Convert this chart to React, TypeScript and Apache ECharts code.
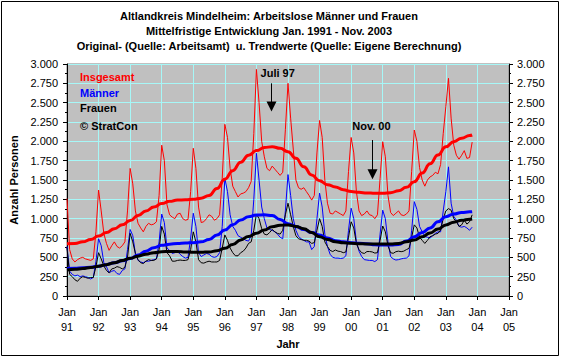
import React, { useEffect, useRef } from "react";
import * as echarts from "echarts";

// Monthly values, Jan 1991 (index 0) .. Nov 2003 (index 154)
const insgesamt = [
  1260, 600, 480, 440, 470, 490, 500, 480, 470, 460, 480, 830,
  1370, 1100, 810, 680, 590, 650, 700, 640, 620, 650, 700, 1100,
  1650, 1450, 1100, 940, 880, 830, 900, 940, 920, 930, 960, 1300,
  1950, 1750, 1180, 1050, 1020, 1000, 1060, 1070, 1000, 980, 990, 1350,
  1910, 1650, 1150, 950, 960, 1000, 1050, 1030, 980, 1000, 1050, 1520,
  2220, 2050, 1650, 1420, 1350, 1280, 1320, 1330, 1350, 1400, 1480, 2100,
  2930, 2500, 2000, 1800, 1650, 1620, 1680, 1640, 1600, 1560, 1600, 2150,
  2750, 2300, 1900, 1500, 1400, 1380, 1400, 1350, 1300, 1240, 1300, 1850,
  2270, 2050, 1500, 1200, 1070, 1060, 1100, 1080, 1060, 1040, 1100, 1610,
  2050, 1850, 1350, 1100, 1040, 1060, 1100, 1050, 1040, 1000, 1050, 1520,
  1995, 1800, 1300, 1080, 1040, 1070, 1100, 1050, 1040, 1060, 1100, 1610,
  2146, 2000, 1660, 1500, 1420, 1500, 1540, 1560, 1600, 1580, 1700, 2100,
  2450, 2815, 2300, 1950, 1820, 1770, 1820, 1880, 1780, 1790, 1990,
];
const maenner = [
  640, 320, 280, 260, 270, 250, 260, 250, 240, 220, 240, 450,
  740, 650, 430, 380, 300, 320, 330, 290, 280, 330, 350, 600,
  860, 780, 550, 460, 440, 430, 450, 450, 460, 470, 480, 700,
  1060, 950, 620, 590, 550, 560, 575, 540, 510, 490, 500, 750,
  1070, 900, 560, 510, 530, 550, 540, 510, 500, 510, 560, 900,
  1520, 1350, 1050, 900, 850, 780, 760, 740, 720, 710, 780, 1250,
  1845, 1500, 1150, 1000, 880, 860, 850, 830, 800, 760, 740, 1100,
  1570, 1300, 1000, 850, 770, 740, 720, 700, 700, 600, 640, 1000,
  1330, 1150, 800, 640, 540, 500, 490, 490, 485, 490, 520, 850,
  1135, 1000, 700, 580, 510, 470, 465, 460, 460, 445, 470, 800,
  1110, 1000, 700, 510, 480, 465, 470, 480, 487, 490, 520, 850,
  1220, 1120, 900, 830, 770, 760, 750, 780, 810, 830, 830, 1100,
  1350, 1670, 1200, 1030, 980, 900, 890, 900, 880, 850, 890,
];
const frauen = [
  620, 280, 250, 210, 190, 230, 250, 240, 230, 240, 240, 380,
  560, 480, 390, 330, 300, 350, 360, 380, 370, 350, 370, 500,
  810, 700, 550, 470, 430, 420, 450, 470, 460, 460, 480, 600,
  900, 800, 560, 520, 450, 450, 460, 465, 460, 460, 470, 600,
  830, 700, 470, 430, 425, 440, 450, 440, 440, 440, 460, 620,
  790, 720, 620, 560, 520, 520, 560, 580, 620, 680, 700, 850,
  1060, 1000, 870, 800, 790, 820, 860, 830, 810, 800, 850, 1050,
  1200, 1050, 900, 780, 740, 730, 720, 720, 710, 680, 690, 850,
  1000, 900, 700, 640, 590, 575, 595, 580, 575, 560, 570, 760,
  960, 880, 680, 600, 560, 550, 575, 575, 570, 555, 560, 720,
  905, 830, 650, 560, 552, 573, 580, 573, 580, 600, 616, 760,
  920, 880, 760, 720, 680, 720, 767, 780, 800, 810, 853, 1000,
  1100, 1130, 1110, 1000, 960, 900, 920, 980, 930, 960, 1050,
];

// Trend values, read quarterly (month index since Jan 1991)
const trendMonths = [
  0, 3, 6, 9, 12, 15, 18, 21, 24, 27, 30, 33, 36, 39, 42, 45, 48, 51, 54, 57,
  60, 63, 66, 69, 72, 75, 78, 81, 84, 87, 90, 93, 96, 99, 102, 105, 108, 111,
  114, 117, 120, 123, 126, 129, 132, 135, 138, 141, 144, 147, 150, 153, 154,
];
const insgesamtTrend = [
  675, 680, 700, 730, 775, 820, 870, 920, 975, 1040, 1100, 1150,
  1195, 1225, 1240, 1245, 1250, 1265, 1300, 1390, 1510, 1620, 1730, 1820,
  1880, 1920, 1930, 1910, 1866, 1780, 1670, 1565, 1490, 1440, 1410, 1375,
  1350, 1340, 1333, 1328, 1328, 1336, 1360, 1405, 1478, 1590, 1710, 1823,
  1930, 1995, 2040, 2075, 2082,
];
const maennerTrend = [
  355, 360, 365, 372, 385, 405, 430, 455, 485, 530, 580, 625,
  655, 670, 680, 685, 690, 700, 730, 790, 853, 920, 983, 1025,
  1047, 1050, 1040, 990, 935, 900, 860, 820, 789, 750, 715, 700,
  690, 682, 675, 662, 658, 658, 665, 710, 767, 820, 880, 960,
  1026, 1060, 1080, 1088, 1090,
];
const frauenTrend = [
  336, 345, 355, 368, 385, 405, 430, 460, 487, 515, 540, 560,
  573, 575, 575, 570, 565, 565, 570, 585, 616, 665, 724, 770,
  810, 855, 896, 915, 918, 900, 870, 820, 767, 730, 702, 690,
  681, 676, 673, 673, 673, 673, 680, 700, 724, 765, 815, 865,
  918, 955, 978, 993, 996,
];

const yearLabels = ["91", "92", "93", "94", "95", "96", "97", "98", "99", "00", "01", "02", "03", "04", "05"];

const titleLines = [
  "Altlandkreis Mindelheim: Arbeitslose Männer und Frauen",
  "Mittelfristige Entwicklung Jan. 1991 - Nov. 2003",
  "Original- (Quelle: Arbeitsamt)  u. Trendwerte (Quelle: Eigene Berechnung)",
];

const legendItems = [
  { text: "Insgesamt", color: "#ff0000" },
  { text: "Männer", color: "#0000ff" },
  { text: "Frauen", color: "#000000" },
  { text: "© StratCon", color: "#000000" },
];

const annotations = [
  { label: "Juli 97", textMonth: 80.1, textValue: 2880, arrowMonth: 77.7, arrowTop: 2750, arrowBottom: 2385 },
  { label: "Nov. 00", textMonth: 115.7, textValue: 2198, arrowMonth: 115.9, arrowTop: 2017, arrowBottom: 1509 },
];

const FONT = "'Liberation Sans', Arial, sans-serif";

function fmtDe(v: number): string {
  if (v >= 1000) {
    const t = Math.floor(v / 1000);
    const r = String(v % 1000).padStart(3, "0");
    return `${t}.${r}`;
  }
  return String(v);
}

export default function App() {
  const ref = useRef<HTMLDivElement>(null);

  useEffect(() => {
    document.body.style.margin = "0";
    if (!ref.current) return;
    const chart = echarts.init(ref.current, undefined, { renderer: "svg" });

    const toPairs = (arr: number[]) => arr.map((v, i) => [i, v]);
    const trendPairs = (arr: number[]) => arr.map((v, i) => [trendMonths[i], v]);

    const gridLineColor = "#a6f7f7";

    const yAxisBase = {
      type: "value",
      min: 0,
      max: 3000,
      interval: 250,
      axisLine: { show: true, lineStyle: { color: "#000", width: 1 } },
      axisTick: { show: true, length: 4, lineStyle: { color: "#000" } },
      minorTick: { show: true, splitNumber: 2, length: 2, lineStyle: { color: "#000" } },
      axisLabel: {
        color: "#000",
        fontSize: 11,
        fontFamily: FONT,
        formatter: (v: number) => fmtDe(v),
      },
    };

    const option: any = {
      animation: false,
      backgroundColor: "#ffffff",
      grid: {
        left: 67,
        right: 52,
        top: 64,
        bottom: 62,
        show: true,
        backgroundColor: "#c0c0c0",
        borderColor: "#808080",
        borderWidth: 1,
      },
      xAxis: {
        type: "value",
        min: 0,
        max: 168,
        interval: 12,
        name: "Jahr",
        nameLocation: "middle",
        nameGap: 40,
        nameTextStyle: { color: "#000", fontSize: 11, fontWeight: "bold", fontFamily: FONT },
        axisLine: { show: true, onZero: false, lineStyle: { color: "#000", width: 1 } },
        axisTick: { show: true, length: 4, lineStyle: { color: "#000" } },
        splitLine: { show: true, lineStyle: { color: gridLineColor, width: 1 } },
        axisLabel: {
          color: "#000",
          fontSize: 11,
          fontFamily: FONT,
          lineHeight: 15,
          margin: 8,
          formatter: (v: number) => `Jan\n${yearLabels[Math.round(v / 12)]}`,
        },
      },
      yAxis: [
        {
          ...yAxisBase,
          position: "left",
          name: "Anzahl Personen",
          nameLocation: "middle",
          nameGap: 46,
          nameRotate: 90,
          nameTextStyle: { color: "#000", fontSize: 11, fontWeight: "bold", fontFamily: FONT },
          splitLine: { show: true, lineStyle: { color: gridLineColor, width: 1 } },
          axisLabel: { ...yAxisBase.axisLabel, margin: 9 },
        },
        {
          ...yAxisBase,
          position: "right",
          splitLine: { show: false },
          axisLabel: { ...yAxisBase.axisLabel, margin: 8 },
        },
      ],
      series: [
        { name: "Insgesamt", type: "line", data: toPairs(insgesamt), showSymbol: false, symbol: "none", lineStyle: { color: "#ff0000", width: 1 }, z: 2 },
        { name: "Männer", type: "line", data: toPairs(maenner), showSymbol: false, symbol: "none", lineStyle: { color: "#0000ff", width: 1 }, z: 2 },
        { name: "Frauen", type: "line", data: toPairs(frauen), showSymbol: false, symbol: "none", lineStyle: { color: "#000000", width: 1 }, z: 2 },
        { name: "Insgesamt Trend", type: "line", data: trendPairs(insgesamtTrend), smooth: 0.5, smoothMonotone: "x", showSymbol: false, symbol: "none", lineStyle: { color: "#ff0000", width: 3 }, z: 3 },
        { name: "Männer Trend", type: "line", data: trendPairs(maennerTrend), smooth: 0.5, smoothMonotone: "x", showSymbol: false, symbol: "none", lineStyle: { color: "#0000ff", width: 3 }, z: 3 },
        { name: "Frauen Trend", type: "line", data: trendPairs(frauenTrend), smooth: 0.5, smoothMonotone: "x", showSymbol: false, symbol: "none", lineStyle: { color: "#000000", width: 3 }, z: 4 },
      ],
    };

    chart.setOption(option);

    const graphics: any[] = [];
    graphics.push({
      type: "rect",
      shape: { x: 1.5, y: 1.5, width: 557, height: 354 },
      style: { fill: "none", stroke: "#000", lineWidth: 1 },
      silent: true,
    });
    titleLines.forEach((t, i) => {
      graphics.push({
        type: "text",
        x: 269,
        y: 16 + i * 15,
        style: { text: t, fill: "#000", font: `bold 11px ${FONT}`, textAlign: "center", textVerticalAlign: "middle" },
      });
    });
    legendItems.forEach((it, i) => {
      graphics.push({
        type: "text",
        x: 80,
        y: [77, 93, 108, 126][i],
        style: { text: it.text, fill: it.color, font: `bold 11px ${FONT}`, textAlign: "left", textVerticalAlign: "middle" },
      });
    });
    annotations.forEach((a) => {
      const tp = chart.convertToPixel({ gridIndex: 0 }, [a.textMonth, a.textValue]) as number[];
      const top = chart.convertToPixel({ gridIndex: 0 }, [a.arrowMonth, a.arrowTop]) as number[];
      const bot = chart.convertToPixel({ gridIndex: 0 }, [a.arrowMonth, a.arrowBottom]) as number[];
      const ax = Math.round(top[0]) + 0.5;
      const head = 10;
      graphics.push({
        type: "text",
        x: tp[0],
        y: tp[1],
        z: 10,
        style: { text: a.label, fill: "#000", font: `bold 11px ${FONT}`, textAlign: "center", textVerticalAlign: "middle" },
      });
      graphics.push({
        type: "line",
        z: 10,
        shape: { x1: ax, y1: top[1], x2: ax, y2: bot[1] - head + 1 },
        style: { stroke: "#000", lineWidth: 1 },
      });
      graphics.push({
        type: "polygon",
        z: 10,
        shape: { points: [[ax - 5, bot[1] - head], [ax + 5, bot[1] - head], [ax, bot[1]]] },
        style: { fill: "#000" },
      });
    });

    chart.setOption({ graphic: { elements: graphics } });

    return () => {
      chart.dispose();
    };
  }, []);

  return <div ref={ref} style={{ width: 561, height: 358 }} />;
}
